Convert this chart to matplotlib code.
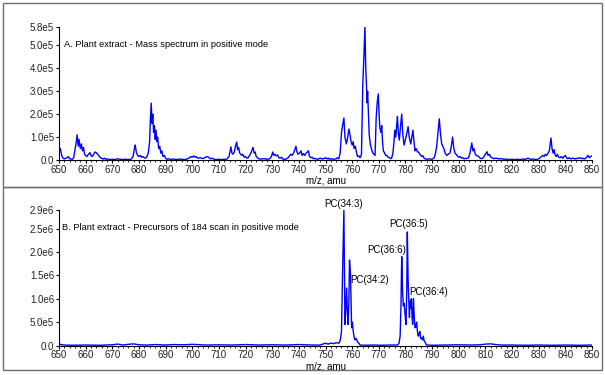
import matplotlib
matplotlib.use('Agg')
import matplotlib.pyplot as plt
from matplotlib.ticker import FixedLocator, MultipleLocator
import numpy as np

plt.rcParams['font.family'] = ['Liberation Sans', 'DejaVu Sans']
plt.rcParams['font.size'] = 7

# panel A: mass spectrum (m/z, intensity in 1e4 counts)
mz_a = [650.0, 650.5, 651.0, 651.5, 652, 653, 653.5, 654, 655, 655.5, 656, 656.5, 656.8, 657.2, 657.5,
        658, 658.4, 658.8, 659.2, 659.6, 660, 660.5, 661, 661.6, 662, 662.5, 663, 663.5, 664, 664.5,
        665, 665.5, 666, 666.5, 667, 667.5, 668, 669, 670, 671, 672, 673, 674, 675, 676, 677, 677.8,
        678.3, 678.6, 679, 679.5, 680, 680.5, 681, 681.5, 682, 682.5, 683, 683.5, 684, 684.3, 684.6,
        684.9, 685.2, 685.5, 685.8, 686.1, 686.4, 686.7, 687, 687.4, 687.8, 688.2, 688.6, 689, 689.5,
        690, 690.5, 691, 692, 693, 694, 695, 696, 697, 698, 699, 699.5, 700, 700.5, 701, 701.5, 702,
        703, 704, 705, 705.5, 706, 706.5, 707, 707.5, 708, 709, 710, 711, 712, 713, 713.8, 714.2,
        714.5, 714.9, 715.3, 715.8, 716.2, 716.7, 717, 717.4, 717.8, 718.2, 718.6, 719, 719.5, 720,
        720.5, 721, 721.5, 722, 722.5, 722.8, 723.2, 723.6, 724, 724.5, 725, 726, 727, 728, 729,
        729.7, 730.2, 730.6, 731, 731.5, 732, 732.5, 733, 733.5, 734, 735, 736, 736.5, 737, 737.5,
        738, 738.5, 738.9, 739.3, 739.7, 740.2, 740.8, 741.2, 741.7, 742.2, 742.7, 743.2, 743.6, 744,
        744.5, 745, 745.5, 746, 747, 748, 749, 750, 750.5, 751, 751.5, 752, 752.5, 753, 754, 754.5,
        755, 755.5, 756, 756.4, 756.9, 757.3, 757.8, 758.2, 758.8, 759.2, 759.6, 760, 760.4, 760.7,
        761.2, 761.6, 762, 762.5, 763, 763.5, 764, 764.4, 764.8, 765.1, 765.3, 765.6, 765.8, 766.1,
        766.4, 766.8, 767.3, 767.8, 768.2, 768.6, 769, 769.4, 769.8, 770.1, 770.4, 770.8, 771.1,
        771.4, 771.7, 772.2, 772.6, 773, 773.5, 774, 774.5, 774.8, 775.3, 775.7, 776, 776.4, 776.7,
        777, 777.3, 777.7, 778.1, 778.6, 779, 779.5, 780, 780.4, 781, 781.4, 782, 782.4, 782.8,
        783.2, 783.6, 784, 784.5, 784.9, 785.4, 785.8, 786.1, 786.6, 787, 787.4, 788, 789, 790,
        790.8, 791.3, 791.7, 792.2, 792.7, 793.1, 793.6, 794, 794.4, 794.9, 795.5, 796, 796.7,
        797.2, 797.7, 798.1, 798.6, 799, 799.5, 800, 800.5, 801, 801.5, 802, 802.5, 803, 803.7,
        804.2, 804.9, 805.3, 805.7, 806.2, 806.6, 807, 807.5, 808, 808.5, 809, 809.5, 810, 810.6,
        811, 811.5, 812, 812.5, 813, 814, 815, 816, 817, 818, 819, 820, 821, 822, 823, 824, 825,
        826, 826.5, 827, 828, 829, 830, 830.5, 831, 831.5, 832, 832.5, 833, 833.5, 834, 834.6,
        835, 835.4, 835.8, 836.2, 836.6, 837, 837.5, 838, 838.5, 839, 839.5, 840, 840.5, 841,
        841.5, 842, 843, 843.5, 844, 845, 845.5, 846, 846.5, 847, 847.5, 848, 848.5, 849, 849.5, 850]
int_a = [5.5, 5.0, 2.0, 0.8, 0.5, 1.0, 1.5, 0.5, 0.3, 1.0, 4.5, 8.0, 11.0, 6.0, 9.0,
         5.0, 7.0, 4.0, 5.5, 2.5, 2.0, 1.5, 2.5, 3.2, 2.0, 1.5, 2.5, 3.5, 3.2, 2.5,
         1.8, 1.0, 0.8, 0.4, 0.8, 0.3, 0.5, 0.2, 0.3, 0.2, 0.5, 0.3, 0.2, 0.3, 0.2, 0.3, 1.5,
         5.0, 6.5, 3.5, 2.0, 1.5, 2.0, 1.2, 1.5, 1.0, 0.8, 1.5, 3.0, 8.0, 18.0, 24.8,
         16.0, 20.0, 12.0, 15.0, 9.0, 13.0, 8.0, 10.0, 5.0, 6.0, 3.0, 4.0, 1.5, 2.0,
         0.8, 0.3, 0.5, 0.3, 0.4, 0.2, 0.4, 0.3, 0.2, 0.4, 1.0, 1.5, 1.2, 1.8, 1.2, 1.5, 0.8,
         1.0, 0.6, 1.2, 1.5, 1.3, 0.8, 0.5, 0.8, 0.4, 0.2, 0.3, 0.2, 0.3, 0.4, 1.5, 4.0,
         5.7, 3.0, 2.5, 3.5, 6.0, 7.8, 4.5, 5.5, 3.0, 2.5, 2.0, 2.5, 1.2, 1.5,
         0.8, 1.0, 2.0, 3.0, 4.5, 5.5, 3.0, 3.5, 1.5, 1.0, 0.5, 0.4, 0.6, 0.3, 0.5,
         1.5, 3.5, 2.0, 2.5, 1.8, 2.2, 1.0, 0.8, 1.2, 0.4, 0.3, 1.0, 1.8, 2.5, 2.0,
         3.0, 4.5, 6.0, 3.5, 2.5, 3.0, 4.0, 2.0, 2.8, 2.0, 3.0, 3.5, 4.0, 1.5,
         1.0, 1.2, 0.5, 0.7, 0.3, 0.8, 0.4, 1.0, 0.5, 0.8, 0.3, 0.6, 0.4, 0.3, 0.5, 1.0,
         0.5, 3.0, 12.0, 15.0, 18.3, 10.0, 7.0, 9.0, 13.5, 11.0, 8.0, 6.5, 8.0, 5.0,
         6.0, 3.5, 1.5, 1.8, 1.0, 2.5, 33.0, 45.0, 58.4, 40.0, 35.0, 25.0, 30.0, 20.0,
         11.0, 7.0, 4.5, 3.0, 2.5, 2.0, 18.0, 25.0, 28.8, 20.0, 14.0, 12.0, 15.0,
         8.0, 4.0, 3.0, 2.0, 2.0, 1.2, 1.0, 0.6, 0.8, 3.0, 8.0, 13.0, 10.0, 15.0,
         19.0, 12.0, 8.7, 14.0, 20.0, 11.0, 6.5, 9.0, 11.0, 14.5, 10.0, 7.0, 10.0, 13.0,
         8.0, 4.0, 5.0, 3.5, 3.5, 2.5, 2.0, 1.5, 1.8, 0.8, 0.5, 0.3, 0.5, 0.3,
         1.0, 3.0, 5.8, 12.0, 18.0, 12.0, 7.0, 6.0, 5.0, 3.0, 2.0, 2.5, 3.0,
         6.0, 10.0, 5.5, 3.0, 2.5, 1.8, 1.2, 1.5, 0.8, 1.0, 0.5, 0.8, 0.6, 1.0,
         3.0, 7.4, 4.0, 5.0, 2.5, 2.0, 1.8, 1.5, 0.8, 0.6, 0.8, 1.5, 2.5, 3.6,
         2.0, 2.5, 1.2, 1.0, 0.6, 0.8, 0.5, 0.6, 0.3, 0.4, 0.2, 0.3, 0.2, 0.3, 0.2, 0.4, 0.3,
         0.8, 0.5, 0.3, 0.4, 0.2, 0.5, 1.0, 1.5, 2.0, 1.5, 2.5, 2.0, 3.0, 4.0, 9.6,
         5.0, 3.0, 4.5, 2.0, 1.5, 2.5, 1.2, 1.0, 1.5, 0.8, 1.5, 2.0, 0.8, 0.6,
         1.0, 0.5, 0.8, 0.5, 0.6, 0.8, 1.0, 0.6, 0.8, 0.5, 0.6, 1.2, 2.0, 1.0, 1.5, 1.8]

# panel B: precursors of 184 scan (m/z, intensity in 1e5 counts)
mz_b = [650, 650.5, 652, 655, 660, 665, 670, 672, 674, 676, 678, 680, 683, 686, 690, 693, 697,
        700, 705, 710, 715, 720, 725, 730, 735, 740, 745, 748, 749, 750, 751, 752, 753, 754, 755,
        755.5, 756, 756.4, 756.9, 757.3, 757.6, 757.9, 758.2, 758.5, 758.8, 759, 759.4, 759.8,
        760.1, 760.4, 760.7, 761, 761.5, 762, 762.5, 763, 765, 768, 771, 774, 777, 777.6, 778,
        778.3, 778.6, 778.9, 779.2, 779.5, 779.8, 780.2, 780.5, 780.7, 781, 781.2, 781.5, 781.7,
        782, 782.2, 782.5, 782.7, 783, 783.3, 783.6, 783.9, 784.2, 784.5, 784.8, 785.1, 785.4,
        785.7, 786, 786.4, 786.7, 787, 787.3, 787.7, 788, 790, 795, 800, 805, 808, 810, 812, 814,
        816, 820, 825, 830, 835, 840, 845, 850]
int_b = [0.6, 0.2, 0.1, 0.05, 0.1, 0.05, 0.15, 0.3, 0.1, 0.25, 0.35, 0.15, 0.1, 0.2, 0.1, 0.2, 0.15,
         0.25, 0.1, 0.15, 0.1, 0.2, 0.1, 0.15, 0.1, 0.2, 0.1, 0.1, 0.3, 0.5, 0.3, 0.5, 0.4, 0.6, 0.5,
         1.0, 3.0, 15.5, 29.0, 4.5, 8.0, 12.3, 7.0, 4.5, 10.0, 18.3, 15.0, 3.8,
         5.0, 3.0, 2.0, 1.2, 1.5, 0.8, 0.5, 0.1, 0.05, 0.1, 0.05, 0.1, 0.1, 0.5, 2.0,
         8.0, 19.0, 12.0, 8.5, 9.0, 7.0, 4.5, 12.0, 24.3, 14.0, 10.5, 6.0, 9.5,
         8.0, 10.0, 6.0, 4.5, 10.0, 6.0, 3.8, 4.0, 5.0, 3.0, 2.0, 2.5, 3.0,
         1.5, 1.6, 1.2, 2.0, 1.0, 0.8, 0.3, 0.1, 0.05, 0.1, 0.15, 0.1, 0.15, 0.3, 0.35, 0.2,
         0.1, 0.1, 0.05, 0.1, 0.05, 0.1, 0.05, 0.1]

ticks_a = [0, 1e5, 2e5, 3e5, 4e5, 5e5, 5.8e5]
labels_a = ['0.0', '1.0e5', '2.0e5', '3.0e5', '4.0e5', '5.0e5', '5.8e5']
ticks_b = [0, 5e5, 1e6, 1.5e6, 2e6, 2.5e6, 2.9e6]
labels_b = ['0.0', '5.0e5', '1.0e6', '1.5e6', '2.0e6', '2.5e6', '2.9e6']

peak_names = ['PC(34:3)', 'PC(34:2)', 'PC(36:6)', 'PC(36:5)', 'PC(36:4)']
peak_x = [756.9, 759.2, 780.2, 781.3, 781.3]
peak_y = [3.03e6, 1.4e6, 2.04e6, 2.6e6, 1.14e6]
peak_ha = ['center', 'left', 'right', 'center', 'left']

fig = plt.figure(figsize=(6.05, 3.75), dpi=100)

# panel frames
frame_col = '#707070'
fig.add_artist(plt.Rectangle((3/605, 1 - 187/375), 599/605, 184/375, transform=fig.transFigure,
                             fill=False, ec=frame_col, lw=1))
fig.add_artist(plt.Rectangle((3/605, 1 - 370/375), 599/605, 183/375, transform=fig.transFigure,
                             fill=False, ec=frame_col, lw=1))

ax1 = fig.add_axes([59/605, 1 - 160/375, 533/605, 133/375])
ax2 = fig.add_axes([59/605, 1 - 345.5/375, 533/605, 135.5/375])

ax1.plot(mz_a, np.array(int_a) * 1e4, color='#0000ff', lw=1)
ax2.plot(mz_b, np.array(int_b) * 1e5, color='#0000ff', lw=1)

ax1.set_ylim(0, 5.8e5)
ax2.set_ylim(0, 2.9e6)
ax1.yaxis.set_major_locator(FixedLocator(ticks_a))
ax1.set_yticklabels(labels_a)
ax2.yaxis.set_major_locator(FixedLocator(ticks_b))
ax2.set_yticklabels(labels_b)

for ax in (ax1, ax2):
    ax.set_xlim(650, 850)
    ax.set_xticks(range(650, 851, 10))
    ax.xaxis.set_minor_locator(MultipleLocator(2))
    ax.spines['top'].set_visible(False)
    ax.spines['right'].set_visible(False)
    ax.tick_params(axis='both', which='major', length=2.5, width=0.8, pad=1, labelsize=7,
                   colors='black', labelcolor='#222222')
    ax.tick_params(axis='x', which='minor', length=1.5, width=0.6)
    ax.set_xlabel('m/z, amu', fontsize=7, labelpad=0.5)
    ax.patch.set_visible(False)

ax1.text(0.009, 0.872, 'A. Plant extract - Mass spectrum in positive mode', transform=ax1.transAxes,
         fontsize=6.7, va='center', ha='left')
ax2.text(0.006, 0.87, 'B. Plant extract - Precursors of 184 scan in positive mode',
         transform=ax2.transAxes, fontsize=6.7, va='center', ha='left')

for name, x, y, ha in zip(peak_names, peak_x, peak_y, peak_ha):
    ax2.text(x, y, name, fontsize=7, ha=ha, va='center', clip_on=False)

fig.savefig('out.png', dpi=100)
